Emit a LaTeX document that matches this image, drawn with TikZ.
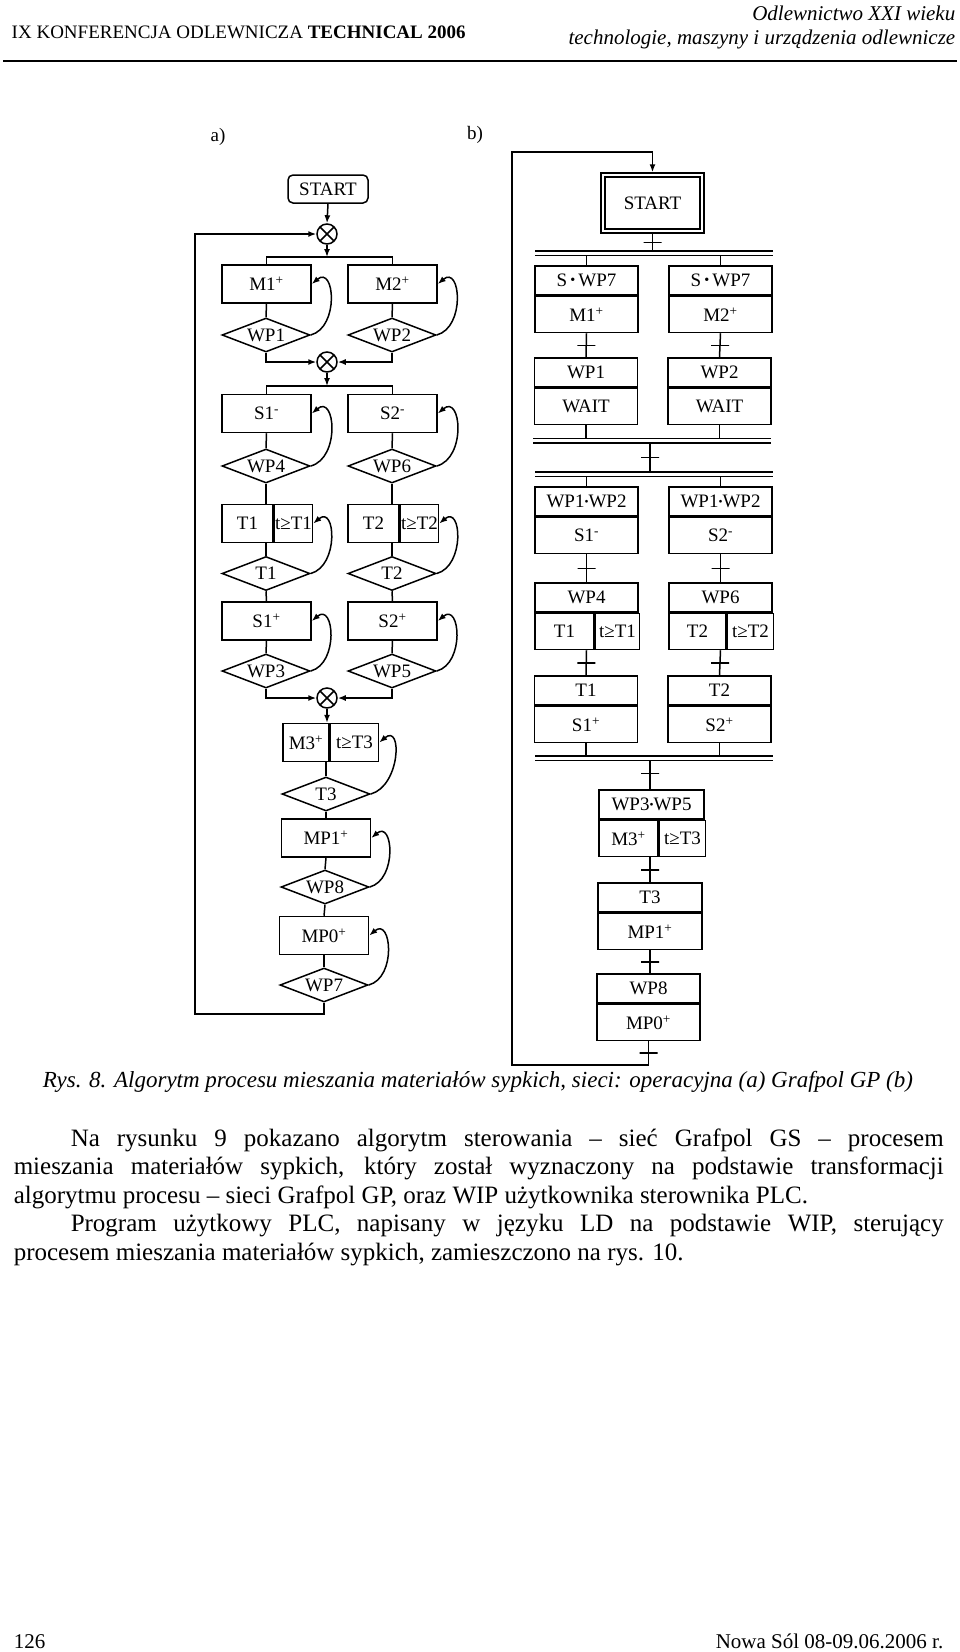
\documentclass[tikz,border=0pt]{standalone}
\usepackage{fontspec}
\setmainfont{Liberation Serif}
\usepackage{graphicx}
\usetikzlibrary{positioning,shapes.geometric,arrows.meta}

\newcommand{\dsize}{\fontsize{19}{21}\selectfont}
\newcommand{\bodysize}{\fontsize{25}{28}\selectfont}
\newcommand{\andd}{\raisebox{.12em}{\scalebox{.6}{\textbullet}}}
\newcommand{\sdot}{\,\raisebox{.1em}{\scalebox{.75}{\textbullet}}\,}

\tikzset{every picture/.style={line width=1.5pt}}
\tikzset{
  arr/.style={-{Latex[length=8pt,width=6pt]}},
  opbox/.style={draw, rectangle, minimum width=89pt, minimum height=38pt, inner sep=0pt, font=\dsize},
  cond/.style={draw, diamond, aspect=2.5, minimum width=88pt, minimum height=34pt, inner sep=0pt, font=\dsize},
  junc/.style={draw, circle, minimum size=20pt, inner sep=0pt,
    path picture={\draw (path picture bounding box.north west) -- (path picture bounding box.south east)
                        (path picture bounding box.north east) -- (path picture bounding box.south west);}},
  fb/.style={arr, out=-15, in=-40, looseness=1.5},
  guard/.style={draw, minimum width=103pt, minimum height=29pt, inner sep=0pt, font=\dsize},
  act/.style={draw, minimum width=103pt, minimum height=36pt, inner sep=0pt, font=\dsize},
  tr/.style={draw, minimum width=18pt, minimum height=0pt, inner sep=0pt},
  sync/.style={double, double distance=3pt},
  txt/.style={inner sep=0pt, anchor=base west},
  txtr/.style={inner sep=0pt, anchor=base east}
}

\begin{document}
\begin{tikzpicture}[
    x=1pt,
    y=1pt,
    yscale=-1,
    xscale=1,
    every node/.style={text=black},
    line width=1.5pt
  ]
  \useasboundingbox (0,0) rectangle (960,1652);

  \node[txt, font={\fontsize{19}{22}\selectfont}] (hdrL) at (11,38) {IX KONFERENCJA ODLEWNICZA \textbf{TECHNICAL 2006}};
  \node[txtr, font={\fontsize{21}{24}\selectfont\itshape}] (hdrR1) at (956,20) {Odlewnictwo XXI wieku};
  \node[txtr, font={\fontsize{21}{24}\selectfont\itshape}] (hdrR2) at (956,44) {technologie, maszyny i urządzenia odlewnicze};
  \draw[line width=2pt] (3,61) -- (957,61);

  \node[font=\dsize] (la) at (218,137) {a)};
  \node[font=\dsize] (lb) at (475,135) {b)};

  % a)
  \node[draw, rounded corners=5pt, minimum width=80pt, minimum height=28pt, inner sep=0pt, font=\dsize] (starta) at (328,189) {START};
  \node[junc] (ja1) at (327,234) {};
  \coordinate (fa1) at (327,257);
  \node[opbox] (M1) at (266.5,284) {M1\textsuperscript{+}};
  \node[opbox] (M2) at (392.5,284) {M2\textsuperscript{+}};
  \node[cond] (WP1) at (266,335) {WP1};
  \node[cond] (WP2) at (392,335) {WP2};
  \node[junc] (ja2) at (327,362) {};
  \coordinate (fa2) at (327,386);
  \node[opbox] (S1m) at (266.5,413.5) {S1\textsuperscript{-}};
  \node[opbox] (S2m) at (392.5,413.5) {S2\textsuperscript{-}};
  \node[cond] (WP4) at (266,466) {WP4};
  \node[cond] (WP6) at (392,466) {WP6};
  \node[opbox, minimum width=51pt] (T1a) at (247.5,523.5) {T1};
  \node[opbox, minimum width=38pt, right=0pt of T1a] (T1b) {t≥T1};
  \node[opbox, minimum width=51pt] (T2a) at (373.5,523.5) {T2};
  \node[opbox, minimum width=38pt, right=0pt of T2a] (T2b) {t≥T2};
  \node[cond] (dT1) at (266,573.5) {T1};
  \node[cond] (dT2) at (392,573.5) {T2};
  \node[opbox] (S1p) at (266.5,621) {S1\textsuperscript{+}};
  \node[opbox] (S2p) at (392.5,621) {S2\textsuperscript{+}};
  \node[cond] (WP3) at (266,671) {WP3};
  \node[cond] (WP5) at (392,671) {WP5};
  \node[junc] (ja3) at (327,698) {};
  \node[opbox, minimum width=46pt] (M3a) at (306,742.5) {M3\textsuperscript{+}};
  \node[opbox, minimum width=48pt, right=0pt of M3a] (M3b) {t≥T3};
  \node[cond] (dT3) at (326,794) {T3};
  \node[opbox] (MP1) at (326,838) {MP1\textsuperscript{+}};
  \node[cond] (WP8) at (325,887) {WP8};
  \node[opbox] (MP0) at (324,935.5) {MP0\textsuperscript{+}};
  \node[cond] (WP7) at (324,985) {WP7};
  \coordinate (loopa) at (195,1014);

  \draw[arr] (starta.south) -- (ja1.north);
  \draw[arr] (ja1.south) -- (fa1);
  \draw (M1.north) |- (fa1) -| (M2.north);
  \draw (M1.south) -- (WP1.north);
  \draw (M2.south) -- (WP2.north);
  \draw[fb] (WP1.east) to (M1.east);
  \draw[fb] (WP2.east) to (M2.east);
  \draw[arr] (WP1.south) |- (ja2.west);
  \draw[arr] (WP2.south) |- (ja2.east);
  \draw[arr] (ja2.south) -- (fa2);
  \draw (S1m.north) |- (fa2) -| (S2m.north);
  \draw (S1m.south) -- (WP4.north);
  \draw (S2m.south) -- (WP6.north);
  \draw[fb] (WP4.east) to (S1m.east);
  \draw[fb] (WP6.east) to (S2m.east);
  \draw (WP4.south) -- (WP4.south |- T1a.north);
  \draw (WP6.south) -- (WP6.south |- T2a.north);
  \draw (dT1.north) -- (dT1.north |- T1a.south);
  \draw (dT2.north) -- (dT2.north |- T2a.south);
  \draw[fb] (dT1.east) to (T1b.east);
  \draw[fb] (dT2.east) to (T2b.east);
  \draw (dT1.south) -- (S1p.north);
  \draw (dT2.south) -- (S2p.north);
  \draw (S1p.south) -- (WP3.north);
  \draw (S2p.south) -- (WP5.north);
  \draw[fb] (WP3.east) to (S1p.east);
  \draw[fb] (WP5.east) to (S2p.east);
  \draw[arr] (WP3.south) |- (ja3.west);
  \draw[arr] (WP5.south) |- (ja3.east);
  \draw[arr] (ja3.south) -- (ja3.south |- M3a.north);
  \draw (dT3.north) -- (dT3.north |- M3a.south);
  \draw[fb] (dT3.east) to (M3b.east);
  \draw (dT3.south) -- (MP1.north);
  \draw (MP1.south) -- (WP8.north);
  \draw[fb] (WP8.east) to (MP1.east);
  \draw (WP8.south) -- (MP0.north);
  \draw (MP0.south) -- (WP7.north);
  \draw[fb] (WP7.east) to (MP0.east);
  \draw[arr] (WP7.south) |- (loopa) |- (ja1.west);

  % b)
  \node[draw, double, double distance=2.5pt, minimum width=99pt, minimum height=56pt, inner sep=0pt, font=\dsize] (startb) at (652.5,203) {START};
  \node[guard] (g1L) at (586.5,280.5) {S\sdot WP7};
  \node[act, below=0pt of g1L] (a1L) {M1\textsuperscript{+}};
  \node[guard] (g1R) at (720.5,280.5) {S\sdot WP7};
  \node[act, below=0pt of g1R] (a1R) {M2\textsuperscript{+}};
  \node[guard] (g2L) at (586,372.5) {WP1};
  \node[act, below=0pt of g2L] (a2L) {WAIT};
  \node[guard] (g2R) at (719.5,372.5) {WP2};
  \node[act, below=0pt of g2R] (a2R) {WAIT};
  \node[guard] (g3L) at (586.5,501.5) {WP1\andd WP2};
  \node[act, below=0pt of g3L] (a3L) {S1\textsuperscript{-}};
  \node[guard] (g3R) at (720.5,501.5) {WP1\andd WP2};
  \node[act, below=0pt of g3R] (a3R) {S2\textsuperscript{-}};
  \node[guard] (g4L) at (586.5,597.5) {WP4};
  \node[act, minimum width=59pt, below right=0pt and 0pt of g4L.south west] (t4L) {T1};
  \node[act, minimum width=44pt, right=0pt of t4L] (t4Lb) {t≥T1};
  \node[guard] (g4R) at (720.5,597.5) {WP6};
  \node[act, minimum width=57pt, below right=0pt and 0pt of g4R.south west] (t4R) {T2};
  \node[act, minimum width=46pt, right=0pt of t4R] (t4Rb) {t≥T2};
  \node[guard] (g5L) at (586,690.5) {T1};
  \node[act, below=0pt of g5L] (a5L) {S1\textsuperscript{+}};
  \node[guard] (g5R) at (719.5,690.5) {T2};
  \node[act, below=0pt of g5R] (a5R) {S2\textsuperscript{+}};
  \node[guard, minimum width=105pt] (g6) at (651.5,804.5) {WP3\andd WP5};
  \node[act, minimum width=59pt, below right=0pt and 0pt of g6.south west] (t6) {M3\textsuperscript{+}};
  \node[act, minimum width=46pt, right=0pt of t6] (t6b) {t≥T3};
  \node[guard, minimum width=104pt] (g7) at (650,897.5) {T3};
  \node[act, minimum width=104pt, below=0pt of g7] (a7) {MP1\textsuperscript{+}};
  \node[guard] (g8) at (648.5,988.5) {WP8};
  \node[act, below=0pt of g8] (a8) {MP0\textsuperscript{+}};
  \coordinate (sy1w) at (535,253);
  \coordinate (sy1e) at (773,253);
  \coordinate (sy2w) at (533,440.5);
  \coordinate (sy2e) at (771,440.5);
  \coordinate (sy3w) at (535,474);
  \coordinate (sy3e) at (773,474);
  \coordinate (sy4w) at (535,758);
  \coordinate (sy4e) at (773,758);
  \coordinate (loopb1) at (512,1065);
  \coordinate (loopb2) at (512,152);

  \draw[shorten <=2pt] (startb.south) -- node[tr] (tr0) {} (startb.south |- sy1w);
  \draw (g1L.north) -- (g1L.north |- sy1w);
  \draw (g1R.north) -- (g1R.north |- sy1w);
  \draw (a1L.south) -- node[tr] (tr1L) {} (g2L.north);
  \draw (a1R.south) -- node[tr] (tr1R) {} (g2R.north);
  \draw (a2L.south) -- (a2L.south |- sy2w);
  \draw (a2R.south) -- (a2R.south |- sy2w);
  \draw (g7.north |- sy2w) -- node[tr] (tr2) {} (g7.north |- sy3w);
  \draw (g3L.north) -- (g3L.north |- sy3w);
  \draw (g3R.north) -- (g3R.north |- sy3w);
  \draw (a3L.south) -- node[tr] (tr3L) {} (g4L.north);
  \draw (a3R.south) -- node[tr] (tr3R) {} (g4R.north);
  \draw (g4L.south |- t4L.south) -- node[tr] (tr4L) {} (g5L.north);
  \draw (g4R.south |- t4R.south) -- node[tr] (tr4R) {} (g5R.north);
  \draw (a5L.south) -- (a5L.south |- sy4w);
  \draw (a5R.south) -- (a5R.south |- sy4w);
  \draw (g7.north |- sy4w) -- node[tr] (tr5) {} (g7.north |- g6.north);
  \draw (g7.north |- t6.south) -- node[tr] (tr6) {} (g7.north);
  \draw (a7.south) -- node[tr] (tr7) {} (a7.south |- g8.north);
  \draw[arr, shorten >=2pt] (a8.south) -- node[tr] (tr8) {} (a8.south |- loopb1) -- (loopb1) -- (loopb2) -| (startb.north);
  \draw[sync] (sy1w) -- (sy1e);
  \draw[sync] (sy2w) -- (sy2e);
  \draw[sync] (sy3w) -- (sy3e);
  \draw[sync] (sy4w) -- (sy4e);

  \node[inner sep=0pt, anchor=base, font={\fontsize{23}{26}\selectfont\itshape}] (capt) at (478,1087) {Rys. 8. Algorytm procesu mieszania materiałów sypkich, sieci: operacyjna (a) Grafpol GP (b)};

  \node[txt, font=\bodysize] (p1) at (70,1146) {\makebox[873pt][s]{Na rysunku 9 pokazano algorytm sterowania – sieć Grafpol GS – procesem}};
  \node[txt, font=\bodysize] (p2) at (13,1174.5) {\makebox[930pt][s]{mieszania materiałów sypkich, który został wyznaczony na podstawie transformacji}};
  \node[txt, font=\bodysize] (p3) at (13,1203) {algorytmu procesu – sieci Grafpol GP, oraz WIP użytkownika sterownika PLC.};
  \node[txt, font=\bodysize] (p4) at (70,1231.5) {\makebox[873pt][s]{Program użytkowy PLC, napisany w języku LD na podstawie WIP, sterujący}};
  \node[txt, font=\bodysize] (p5) at (13,1260) {procesem mieszania materiałów sypkich, zamieszczono na rys. 10.};

  \node[txt, font={\fontsize{21}{24}\selectfont}] (pg) at (13,1648) {126};
  \node[txtr, font={\fontsize{21}{24}\selectfont}] (place) at (944,1648) {Nowa Sól 08-09.06.2006 r.};
\end{tikzpicture}
\end{document}
